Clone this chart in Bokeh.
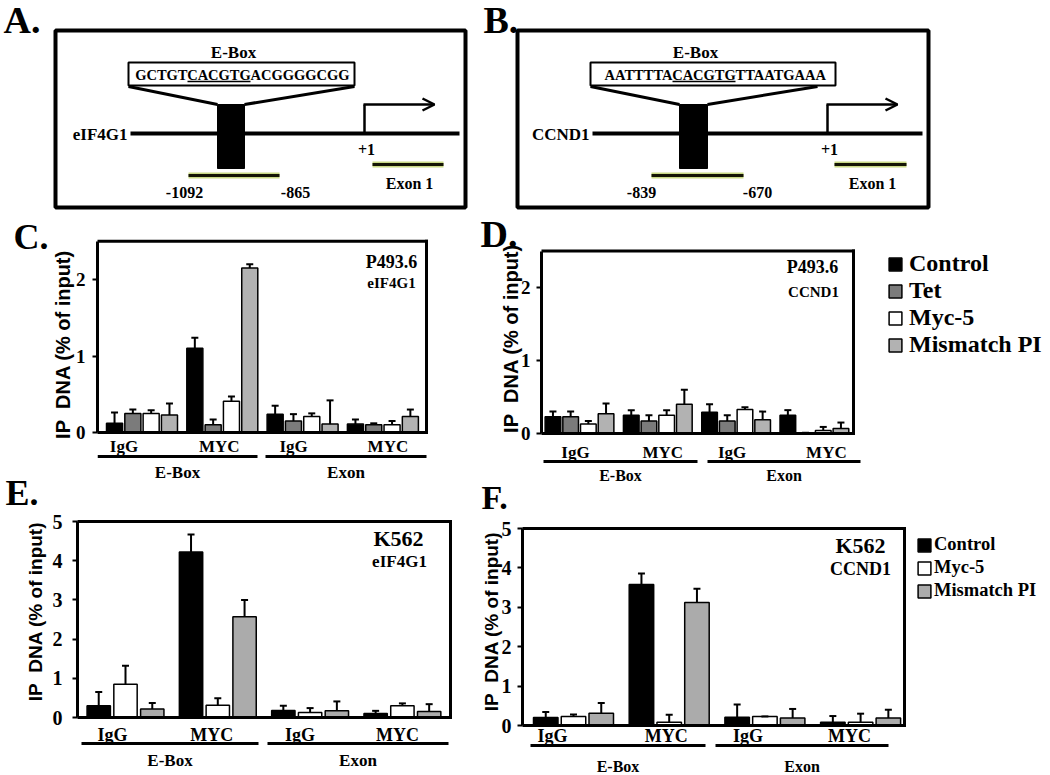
import math
from bokeh.plotting import figure
from bokeh.models import (Range1d, ColumnDataSource, Whisker, TeeHead, GridBox,
                          Legend, LegendItem, FixedTicker, Arrow, OpenHead)
from bokeh.layouts import column, row
from bokeh.embed import file_html
from bokeh.resources import INLINE
from bokeh.core.properties import value

SERIF = "Liberation Serif"
SANS = "Liberation Sans"

# ---------------- data ----------------
groups = ["IgG", "MYC", "IgG", "MYC"]
regions = ["E-Box", "Exon"]
p493_series = ["Control", "Tet", "Myc-5", "Mismatch PI"]
k562_series = ["Control", "Myc-5", "Mismatch PI"]
p493_ticks = [0, 1, 2]
k562_ticks = [0, 1, 2, 3, 4, 5]
y_title = "IP\u00a0 DNA (% of input)"
panel_letters = ["A.", "B.", "C.", "D.", "E.", "F."]

# C: P493.6 / eIF4G1  (mean, sd)
c_control = [0.12, 1.10, 0.24, 0.11]
c_control_sd = [0.14, 0.14, 0.11, 0.06]
c_tet = [0.25, 0.10, 0.15, 0.10]
c_tet_sd = [0.05, 0.07, 0.09, 0.02]
c_myc5 = [0.25, 0.41, 0.21, 0.10]
c_myc5_sd = [0.04, 0.06, 0.04, 0.05]
c_mismatch = [0.23, 2.15, 0.11, 0.21]
c_mismatch_sd = [0.15, 0.05, 0.31, 0.09]

# D: P493.6 / CCND1
d_control = [0.23, 0.25, 0.29, 0.25]
d_control_sd = [0.07, 0.07, 0.11, 0.07]
d_tet = [0.23, 0.17, 0.17, 0.01]
d_tet_sd = [0.07, 0.08, 0.08, 0.00]
d_myc5 = [0.13, 0.25, 0.33, 0.04]
d_myc5_sd = [0.04, 0.07, 0.03, 0.05]
d_mismatch = [0.27, 0.40, 0.19, 0.07]
d_mismatch_sd = [0.14, 0.20, 0.11, 0.08]

# E: K562 / eIF4G1
e_control = [0.30, 4.22, 0.18, 0.10]
e_control_sd = [0.35, 0.45, 0.12, 0.07]
e_myc5 = [0.85, 0.31, 0.13, 0.30]
e_myc5_sd = [0.47, 0.18, 0.11, 0.06]
e_mismatch = [0.22, 2.57, 0.17, 0.15]
e_mismatch_sd = [0.15, 0.43, 0.24, 0.19]

# F: K562 / CCND1
f_control = [0.20, 3.58, 0.21, 0.08]
f_control_sd = [0.14, 0.28, 0.32, 0.16]
f_myc5 = [0.23, 0.08, 0.23, 0.08]
f_myc5_sd = [0.05, 0.19, 0.00, 0.22]
f_mismatch = [0.31, 3.12, 0.19, 0.19]
f_mismatch_sd = [0.26, 0.35, 0.23, 0.21]

p493_colors = ["#000000", "#7b7b7b", "#ffffff", "#b2b2b2"]
k562_colors = ["#000000", "#ffffff", "#ababab"]

# diagram texts
seq_a = ["GCTGT", "CACGTG", "ACGGGGCGG"]
seq_b = ["AATTTTA", "CACGTG", "TTAATGAAA"]


def bold_text(p, x, y, text, size, align="center", baseline="middle", font=SERIF, angle=0):
    p.text(x=x, y=y, text=text, text_font=value(font), text_font_style="bold",
           text_font_size=size, text_align=align, text_baseline=baseline,
           text_color="black", angle=angle)


def blank_figure(box, transparent=False):
    x0, y0, x1, y1 = box
    kw = {}
    if transparent:
        kw = dict(background_fill_color=None, border_fill_color=None)
    p = figure(width=x1 - x0, height=y1 - y0, x_range=Range1d(x0, x1), y_range=Range1d(y1, y0),
               output_backend="svg", toolbar_location=None, min_border=0,
               x_axis_location=None, y_axis_location=None, **kw)
    p.xgrid.visible = False
    p.ygrid.visible = False
    p.outline_line_color = None
    return p


# ---------------- panels A & B (gene diagrams) ----------------
def gene_diagram(d):
    p = blank_figure(d["fig"])
    bx0, by0, bx1, by1 = d["box"]
    p.quad(left=[bx0], right=[bx1], top=[by0], bottom=[by1], fill_color=None,
           line_color="black", line_width=4)
    bold_text(p, [d["ebox_xy"][0]], [d["ebox_xy"][1]], ["E-Box"], "17px")
    sx0, sy0, sx1, sy1 = d["seqbox"]
    rx0, ry0, rx1, ry1 = d["block"]
    p.segment(x0=[sx0, d["right_start"]], y0=[sy1 + 1, sy1 + 1], x1=[rx0, rx1], y1=[ry0, ry0],
              line_width=3, line_color="black")
    p.quad(left=[sx0], right=[sx1], top=[sy0], bottom=[sy1], fill_color="white",
           line_color="black", line_width=2)
    u0, u1 = d["uline"]
    ty = d["seq_y"]
    seq = d["seq"]
    bold_text(p, [u0], [ty], [seq[0]], "14.5px", align="right")
    bold_text(p, [(u0 + u1) / 2], [ty], [seq[1]], "14.5px", align="center")
    bold_text(p, [u1], [ty], [seq[2]], "14.5px", align="left")
    p.segment(x0=[u0], y0=[ty + 7], x1=[u1], y1=[ty + 7], line_width=1.5, line_color="black")
    lx0, lx1, gy = d["gene_line"]
    p.segment(x0=[lx0], y0=[gy], x1=[lx1], y1=[gy], line_width=4, line_color="black")
    p.quad(left=[rx0], right=[rx1], top=[ry0], bottom=[ry1], fill_color="black", line_color="black")
    bold_text(p, [lx0 - 3], [gy + 1], [d["gene"]], "17px", align="right")
    ax, ay_top, ax_end = d["tss"]
    p.segment(x0=[ax], y0=[gy], x1=[ax], y1=[ay_top], line_width=2.5, line_color="black")
    p.add_layout(Arrow(end=OpenHead(size=12, line_width=2.5, line_color="black"),
                       x_start=ax - 1, y_start=ay_top, x_end=ax_end, y_end=ay_top,
                       line_width=2.5, line_color="black"))
    bold_text(p, [ax + 2], [gy + 16], ["+1"], "16px")
    for (x0, x1, yy) in d["amplicons"]:
        p.segment(x0=[x0], y0=[yy], x1=[x1], y1=[yy], line_width=6, line_color="#c9d985")
        p.segment(x0=[x0], y0=[yy], x1=[x1], y1=[yy], line_width=3, line_color="#151505")
    for (t, x, y) in d["labels"]:
        bold_text(p, [x], [y], [t], "16px")
    return p


fig_a = gene_diagram(dict(
    fig=(0, 0, 480, 220), box=(55, 30, 465, 207), ebox_xy=(233, 52),
    seqbox=(128, 62, 354, 85), right_start=354, block=(217, 104, 244, 168),
    uline=(187, 250), seq_y=74, seq=seq_a, gene_line=(130, 459, 133), gene="eIF4G1",
    tss=(364, 104, 434), amplicons=[(188, 279, 175), (372, 443, 164)],
    labels=[("-1092", 184, 192), ("-865", 295, 192), ("Exon 1", 409, 183)]))
fig_b = gene_diagram(dict(
    fig=(480, 0, 1050, 220), box=(517, 30, 928, 207), ebox_xy=(695, 52),
    seqbox=(590, 62, 835, 85), right_start=817, block=(679, 104, 707, 168),
    uline=(672, 735), seq_y=74, seq=seq_b, gene_line=(592, 922, 133), gene="CCND1",
    tss=(827, 104, 897), amplicons=[(651, 743, 175), (834, 906, 164)],
    labels=[("-839", 641, 192), ("-670", 757, 192), ("Exon 1", 872, 183)]))


# ---------------- bar chart panels ----------------
def bar_panel(geo, series, colors, vals, sds, ticks):
    fx0, fy0, fx1, fy1 = geo["fig"]
    ax, c0, sp, y0, u = geo["axis"], geo["c0"], geo["sp"], geo["y0"], geo["u"]

    def X(px):
        return (px - c0) / sp

    def Y(py):
        return (y0 - py) / u

    p = figure(width=fx1 - fx0, height=fy1 - fy0, output_backend="svg", toolbar_location=None,
               x_range=Range1d(X(ax), X(fx1)), y_range=Range1d(Y(fy1), Y(fy0)),
               x_axis_location=None,
               min_border_left=ax - fx0, min_border_right=0, min_border_top=0, min_border_bottom=0)
    p.xgrid.visible = False
    p.ygrid.visible = False
    p.outline_line_color = None
    ymax = geo["ymax"]

    yax = p.yaxis[0]
    yax.bounds = (0, ymax)
    yax.ticker = FixedTicker(ticks=ticks)
    yax.axis_line_width = 3
    yax.axis_line_color = "black"
    yax.major_tick_line_width = 2
    yax.major_tick_out = 5
    yax.major_tick_in = 0
    yax.minor_tick_out = 0
    yax.minor_tick_in = 0
    yax.major_label_text_font = SERIF
    yax.major_label_text_font_style = "bold"
    yax.major_label_text_font_size = geo["tick_font"]
    yax.major_label_text_color = "black"
    yax.major_label_standoff = geo["tick_standoff"]

    n = len(series)
    renderers = []
    for k, name in enumerate(series):
        off = (k - (n - 1) / 2) * geo["step"]
        xs = [i + off for i in range(len(groups))]
        upper = [v + s for v, s in zip(vals[k], sds[k])]
        src = ColumnDataSource(dict(x=xs, top=vals[k], upper=upper))
        r = p.vbar(x="x", top="top", bottom=0, width=geo["bw"], source=src,
                   fill_color=colors[k], line_color="black", line_width=1.5)
        renderers.append(r)
        p.add_layout(Whisker(source=src, base="x", lower="top", upper="upper",
                             line_width=2, line_color="black", lower_head=None,
                             upper_head=TeeHead(size=7, line_width=2, line_color="black"),
                             level="overlay"))

    bx = X(geo["box_r"])
    p.segment(x0=[X(ax), bx, X(ax) - 0.02], y0=[ymax, 0, 0], x1=[bx, bx, bx], y1=[ymax, ymax, 0],
              line_width=3, line_color="black", line_cap="square")

    # category labels (slightly shifted as in the original layout)
    lab_x = [i + dx / sp for i, dx in enumerate(geo["lab_dx"])]
    p.text(x=lab_x, y=[Y(geo["lab_y"])] * len(groups), text=groups,
           text_font=value(SERIF), text_font_style="bold", text_font_size=geo["group_font"],
           text_align="center", text_baseline="middle", text_color="black")
    ul = geo["ul"]
    p.segment(x0=[X(a) for a, b in ul], x1=[X(b) for a, b in ul],
              y0=[Y(geo["ul_y"])] * len(ul), y1=[Y(geo["ul_y"])] * len(ul),
              line_width=3, line_color="black")
    p.text(x=[(X(a) + X(b)) / 2 for a, b in ul], y=[Y(geo["reg_y"])] * len(regions),
           text=regions, text_font=value(SERIF), text_font_style="bold",
           text_font_size=geo["region_font"], text_align="center", text_baseline="middle",
           text_color="black")

    for (t, px, py, fs) in geo["insets"]:
        p.text(x=[X(px)], y=[Y(py)], text=[t], text_font=value(SERIF), text_font_style="bold",
               text_font_size=fs, text_align="center", text_baseline="middle", text_color="black")

    lg = geo.get("legend")
    if lg:
        items = [LegendItem(label=name, renderers=[r]) for name, r in zip(series, renderers)]
        height = n * lg["row_h"] + (n - 1) * lg["spacing"]
        vx = int(round(lg["left"] - ax))
        vy = int(round(fy1 - (lg["top"] + height)))
        legend = Legend(items=items, location=(vx, vy), orientation="vertical",
                        glyph_width=16, glyph_height=16, label_standoff=lg["standoff"],
                        spacing=lg["spacing"], padding=0, margin=0,
                        border_line_color=None, background_fill_alpha=0,
                        label_text_font=SERIF, label_text_font_style="bold",
                        label_text_font_size=lg["font"], label_text_color="black")
        p.add_layout(legend)
    return p


c_geo = dict(fig=(0, 220, 480, 483), axis=97, c0=141.5, sp=80.3, y0=432, u=76.5, ymax=2.5,
             box_r=426, bw=0.2, step=0.228, lab_y=446, ul_y=456, reg_y=472,
             lab_dx=[-18, -3, -9, 5],
             ul=[(97, 257), (265, 426)], tick_font="19px",
             group_font="17px", region_font="17px", tick_standoff=7,
             insets=[("P493.6", 391, 261, "18px"), ("eIF4G1", 391, 282, "15px")])
d_geo = dict(fig=(480, 220, 1050, 485), axis=541, c0=579, sp=78.3, y0=433, u=73, ymax=2.5,
             box_r=853, bw=0.2, step=0.226, lab_y=452, ul_y=461, reg_y=475,
             lab_dx=[-4, 5, -4, 12],
             ul=[(543, 697), (707, 860)], tick_font="19px",
             group_font="17px", region_font="16px", tick_standoff=6,
             insets=[("P493.6", 812, 266, "18px"), ("CCND1", 813, 291, "15px")],
             legend=dict(left=887, top=252, font="24px", standoff=6, spacing=0, row_h=26.6))
e_geo = dict(fig=(0, 483, 480, 775), axis=77, c0=125, sp=92.3, y0=717, u=39.2, ymax=5,
             box_r=450, bw=0.253, step=0.29, lab_y=734, ul_y=743, reg_y=760,
             lab_dx=[-13, -6, -10, -5],
             ul=[(81, 258), (267, 448)], tick_font="20px",
             group_font="18px", region_font="17px", tick_standoff=10,
             insets=[("K562", 398, 538, "22px"), ("eIF4G1", 399, 561, "17px")])
f_geo = dict(fig=(480, 485, 1050, 775), axis=522, c0=573, sp=95.7, y0=725, u=39.4, ymax=5,
             box_r=904, bw=0.256, step=0.29, lab_y=735, ul_y=745, reg_y=766,
             lab_dx=[-21, -3, -17, -11],
             ul=[(530, 705), (715, 888)], tick_font="20px",
             group_font="18px", region_font="16px", tick_standoff=6,
             insets=[("K562", 860, 545, "22px"), ("CCND1", 860, 568, "18px")],
             legend=dict(left=916, top=535, font="18.5px", standoff=2, spacing=2, row_h=20.5))

pc = bar_panel(c_geo, p493_series, p493_colors,
               [c_control, c_tet, c_myc5, c_mismatch],
               [c_control_sd, c_tet_sd, c_myc5_sd, c_mismatch_sd], p493_ticks)
pd_ = bar_panel(d_geo, p493_series, p493_colors,
                [d_control, d_tet, d_myc5, d_mismatch],
                [d_control_sd, d_tet_sd, d_myc5_sd, d_mismatch_sd], p493_ticks)
pe = bar_panel(e_geo, k562_series, k562_colors,
               [e_control, e_myc5, e_mismatch],
               [e_control_sd, e_myc5_sd, e_mismatch_sd], k562_ticks)
pf = bar_panel(f_geo, k562_series, k562_colors,
               [f_control, f_myc5, f_mismatch],
               [f_control_sd, f_myc5_sd, f_mismatch_sd], k562_ticks)

# ---------------- transparent overlay: panel letters and y titles ----------------
overlay = blank_figure((0, 0, 1050, 775), transparent=True)
letter_pos = [(3, 19, "38px"), (483, 19, "38px"), (13, 236, "36px"),
              (480, 233, "38px"), (5, 492, "36px"), (481, 497, "34px")]
for t, (x, y, s) in zip(panel_letters, letter_pos):
    bold_text(overlay, [x], [y], [t], s, align="left")
for (x, y, s) in [(62, 344, "20px"), (510, 338, "20px"), (35, 611, "19px"), (491, 621, "19px")]:
    bold_text(overlay, [x], [y], [y_title], s, font=SANS, angle=math.pi / 2)

# each plot wrapped in its own row so that frames are not aligned across the column
left_col = column(row(fig_a), row(pc), row(pe))
right_col = column(row(fig_b), row(pd_), row(pf))
base = row(left_col, right_col)
layout = GridBox(children=[(base, 0, 0), (overlay, 0, 0)])

with open("out.html", "w") as fh:
    fh.write(file_html(layout, INLINE, title="ChIP figure"))
